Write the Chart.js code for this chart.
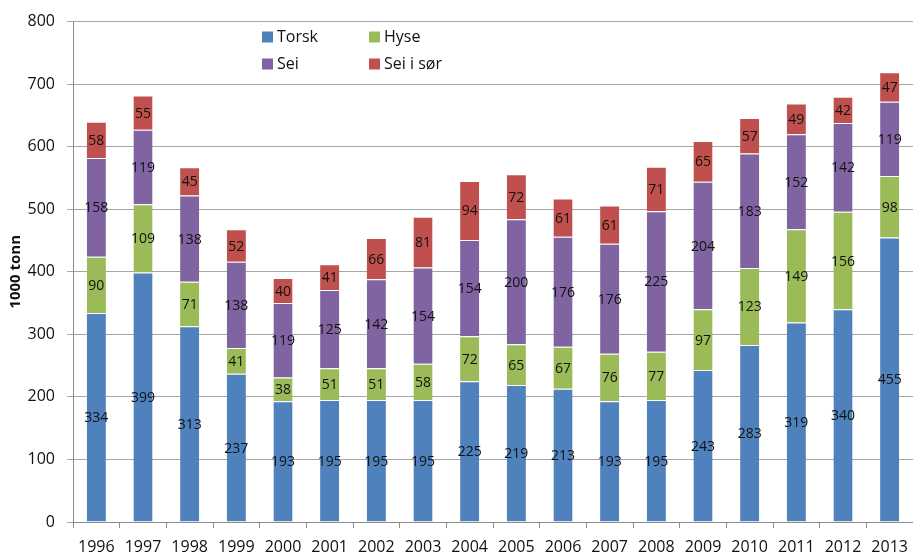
<!DOCTYPE html>
<html>
<head>
<meta charset="utf-8">
<script src="https://cdn.jsdelivr.net/npm/chart.js@4/dist/chart.umd.min.js"></script>
<style>
    html, body { margin: 0; padding: 0; background: #ffffff; }
    #chart-box { position: relative; width: 913px; height: 557px; }
</style>
</head>
<body>
<div id="chart-box"><canvas id="landings-chart-canvas"></canvas></div>
<script>
// landings, 1000 tonn
const years = ['1996', '1997', '1998', '1999', '2000', '2001', '2002', '2003', '2004',
               '2005', '2006', '2007', '2008', '2009', '2010', '2011', '2012', '2013'];
const torsk = [334, 399, 313, 237, 193, 195, 195, 195, 225, 219, 213, 193, 195, 243, 283, 319, 340, 455];
const hyse = [90, 109, 71, 41, 38, 51, 51, 58, 72, 65, 67, 76, 77, 97, 123, 149, 156, 98];
const sei = [158, 119, 138, 138, 119, 125, 142, 154, 154, 200, 176, 176, 225, 204, 183, 152, 142, 119];
const sei_i_sor = [58, 55, 45, 52, 40, 41, 66, 81, 94, 72, 61, 61, 71, 65, 57, 49, 42, 47];
const series_names = ['Torsk', 'Hyse', 'Sei', 'Sei i sør'];
const series_colors = ['#4F81BD', '#9BBB59', '#8064A2', '#C0504D'];
const y_ticks = [0, 100, 200, 300, 400, 500, 600, 700, 800];

const FONT = '"Open Sans", "Liberation Sans", sans-serif';

// value in the middle of every stacked segment
const segment_labels_plugin = {
    id: 'segment_labels',
    afterDatasetsDraw: function(chart) {
        let ctx = chart.ctx;
        ctx.save();
        ctx.font = '14px ' + FONT;
        ctx.fillStyle = '#111111';
        ctx.textAlign = 'center';
        ctx.textBaseline = 'middle';
        chart.data.datasets.forEach((ds, i) => {
            chart.getDatasetMeta(i).data.forEach((bar, j) => {
                ctx.fillText(String(ds.data[j]), bar.x, (bar.y + bar.base) / 2 + 1);
            });
        });
        ctx.restore();
    }
};

// legend laid out as a 2x2 grid inside the plot, like the original
const grid_legend_plugin = {
    id: 'grid_legend',
    afterDraw: function(chart) {
        let ctx = chart.ctx;
        let cols = [262, 369];
        let rows = [37, 64];
        ctx.save();
        ctx.font = '16px ' + FONT;
        ctx.textBaseline = 'middle';
        ctx.textAlign = 'left';
        chart.data.datasets.forEach((ds, i) => {
            let x = cols[i % 2];
            let y = rows[Math.floor(i / 2)];
            ctx.fillStyle = ds.backgroundColor;
            ctx.fillRect(x, y - 5.5, 11, 11);
            ctx.fillStyle = '#111111';
            ctx.fillText(ds.label, x + 15, y);
        });
        ctx.restore();
    }
};

function build_datasets() {
    let values = [torsk, hyse, sei, sei_i_sor];
    return values.map((data, i) => {
        return {
            label: series_names[i],
            data: data,
            backgroundColor: series_colors[i],
            borderColor: 'rgba(255,255,255,0.45)',
            borderWidth: { top: 1, left: 0, right: 0, bottom: 0 },
            borderSkipped: false,
            categoryPercentage: 1.0,
            barPercentage: 0.41
        };
    });
}

new Chart(document.getElementById('landings-chart-canvas'), {
    type: 'bar',
    data: {
        labels: years,
        datasets: build_datasets()
    },
    plugins: [segment_labels_plugin, grid_legend_plugin],
    options: {
        responsive: true,
        maintainAspectRatio: false,
        animation: false,
        layout: {
            padding: { top: 20, right: 0, bottom: 0, left: 0 }
        },
        plugins: {
            legend: { display: false },
            title: { display: false },
            tooltip: { enabled: false }
        },
        scales: {
            x: {
                stacked: true,
                afterFit: function(scale) {
                    // plot runs right up to the edge of the picture
                    scale.height = 35;
                    scale.paddingLeft = 0;
                    scale.paddingRight = 0;
                },
                grid: {
                    offset: true,
                    drawOnChartArea: false,
                    drawTicks: true,
                    tickLength: 6,
                    color: '#8c8c8c'
                },
                border: { color: '#8c8c8c' },
                ticks: {
                    padding: 10,
                    maxRotation: 0,
                    autoSkip: false,
                    color: '#111111',
                    font: { family: FONT, size: 16 }
                }
            },
            y: {
                stacked: true,
                min: 0,
                max: 800,
                afterFit: function(scale) { scale.width = 73; },
                afterBuildTicks: function(scale) {
                    scale.ticks = y_ticks.map((v) => ({ value: v }));
                },
                grid: {
                    color: '#a6a6a6',
                    tickLength: 6
                },
                border: { color: '#8c8c8c' },
                ticks: {
                    padding: 12,
                    color: '#111111',
                    font: { family: FONT, size: 16 }
                },
                title: {
                    display: true,
                    text: '1000 tonn',
                    color: '#111111',
                    padding: { top: 7, bottom: 0 },
                    font: { family: FONT, size: 15, weight: 'bold' }
                }
            }
        }
    }
});
</script>
</body>
</html>
